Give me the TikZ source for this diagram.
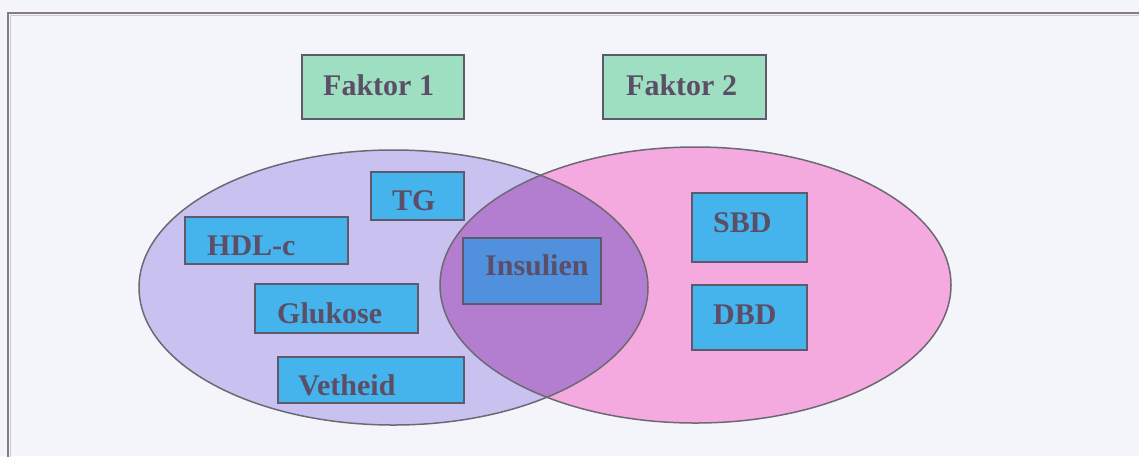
\documentclass[tikz,border=0pt]{standalone}
\usepackage{fontspec}
\setmainfont{Liberation Serif}
\definecolor{bgc}{HTML}{F3F5FA}
\definecolor{framec}{HTML}{857A88}
\definecolor{lavc}{HTML}{C9C2F0}
\definecolor{pinkc}{HTML}{F4AADF}
\definecolor{purpc}{HTML}{B47ED0}
\definecolor{edgec}{HTML}{6E6872}
\definecolor{bluec}{HTML}{45B3EC}
\definecolor{insc}{HTML}{5090DC}
\definecolor{greenc}{HTML}{9EDFC2}
\definecolor{boxedge}{HTML}{5E5A6A}
\definecolor{txtc}{HTML}{5B4E66}
\begin{document}
\begin{tikzpicture}[x=1pt,y=-1pt,
  boxbase/.style={draw=boxedge, line width=2pt, inner sep=0pt, rectangle},
  bluebox/.style={boxbase, fill=bluec},
  greenbox/.style={boxbase, fill=greenc},
  insbox/.style={boxbase, fill=insc},
  lbl/.style={anchor=base west, inner sep=0pt, text=txtc, font=\fontsize{30}{36}\selectfont\bfseries},
  ell/.style={draw=edgec, line width=1.5pt}]
\useasboundingbox (0,0) rectangle (1139,456);
\fill[bgc] (0,0) rectangle (1139,456);
\draw[framec, line width=2pt] (8,470) -- (8,13) -- (1150,13);
\draw[white!60!framec, line width=0.6pt] (10.5,470) -- (10.5,15.5) -- (1150,15.5);
% ellipses
\fill[lavc] (393.5,287.5) ellipse [x radius=254.5, y radius=137.5];
\fill[pinkc] (695.5,285) ellipse [x radius=255.5, y radius=138];
\begin{scope}
  \clip (393.5,287.5) ellipse [x radius=254.5, y radius=137.5];
  \fill[purpc] (695.5,285) ellipse [x radius=255.5, y radius=138];
\end{scope}
\draw[ell] (393.5,287.5) ellipse [x radius=254.5, y radius=137.5];
\draw[ell] (695.5,285) ellipse [x radius=255.5, y radius=138];
% boxes
\node[greenbox, minimum width=162pt, minimum height=64pt] (f1) at (383,87) {};
\node[greenbox, minimum width=163pt, minimum height=64pt] (f2) at (684.5,87) {};
\node[bluebox, minimum width=93pt, minimum height=48pt] (tg) at (417.5,196) {};
\node[bluebox, minimum width=163pt, minimum height=47pt] (hdl) at (266.5,240.5) {};
\node[bluebox, minimum width=163pt, minimum height=49pt] (glu) at (336.5,308.5) {};
\node[bluebox, minimum width=186pt, minimum height=46pt] (vet) at (371,380) {};
\node[insbox, minimum width=138pt, minimum height=66pt] (ins) at (532,271) {};
\node[bluebox, minimum width=115pt, minimum height=69pt] (sbd) at (749.5,227.5) {};
\node[bluebox, minimum width=115pt, minimum height=65pt] (dbd) at (749.5,317.5) {};
% labels
\node[lbl] (tf1) at (323,95) {Faktor 1};
\node[lbl] (tf2) at (626,95) {Faktor 2};
\node[lbl] (ttg) at (392,210) {TG};
\node[lbl] (thdl) at (207,255) {HDL-c};
\node[lbl] (tglu) at (277,323) {Glukose};
\node[lbl] (tvet) at (298,395) {Vetheid};
\node[lbl] (tins) at (485,275) {Insulien};
\node[lbl] (tsbd) at (713,232) {SBD};
\node[lbl] (tdbd) at (713,324) {DBD};
\end{tikzpicture}
\end{document}
